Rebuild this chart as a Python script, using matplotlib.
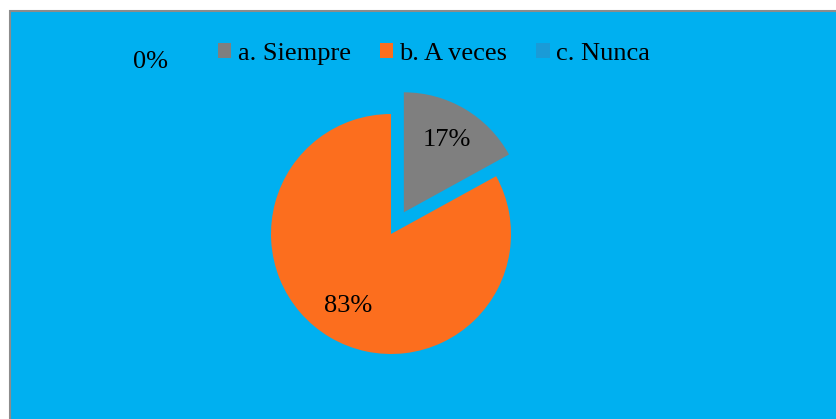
import matplotlib.pyplot as plt
from matplotlib.patches import Rectangle

# Datos del gráfico
categorias = ['a. Siempre', 'b. A veces', 'c. Nunca']
porcentajes = [17, 83, 0]
colores = ['#7F7F7F', '#FC6E1E', '#1A9BD7']

plt.rcParams['font.family'] = ['Liberation Serif', 'DejaVu Serif']

fig = plt.figure(figsize=(8.36, 4.19), dpi=100)
fig.patch.set_facecolor('white')

# Fondo del área del gráfico con borde gris (en coordenadas de figura)
fig.add_artist(Rectangle((10 / 836, -0.2), 1.2, 1.2 - 11 / 419,
                         transform=fig.transFigure, facecolor='#00B0F0',
                         edgecolor='#8C8C8C', linewidth=1.5, zorder=0))

# Eje en píxeles (origen abajo a la izquierda)
ax = fig.add_axes([0, 0, 1, 1])
ax.patch.set_alpha(0)

radio = 120
explode = [0.21 * radio, 0, 0]
wedges, textos, autotextos = ax.pie(
    porcentajes, colors=colores, explode=explode, startangle=90,
    counterclock=False, center=(391, 185), radius=radio,
    autopct=lambda p: f'{p:.0f}%' if p > 0 else '', pctdistance=0.7,
    textprops={'fontsize': 19, 'color': 'black'}, frame=True)
ax.set_xlim(0, 836)
ax.set_ylim(0, 419)
ax.set_aspect('equal')
ax.axis('off')

# Etiqueta de la categoría con 0%
for cat, val in zip(categorias, porcentajes):
    if val == 0:
        ax.text(150, 419 - 62, f'{val}%', fontsize=19, ha='center', va='center')

fig.legend(wedges, categorias, loc='center', ncol=3, frameon=False,
           bbox_to_anchor=(434 / 836, 1 - 54 / 419), fontsize=19,
           handlelength=0.5, handleheight=0.5, handletextpad=0.25,
           columnspacing=1.1)

fig.savefig('out.png', dpi=100)
